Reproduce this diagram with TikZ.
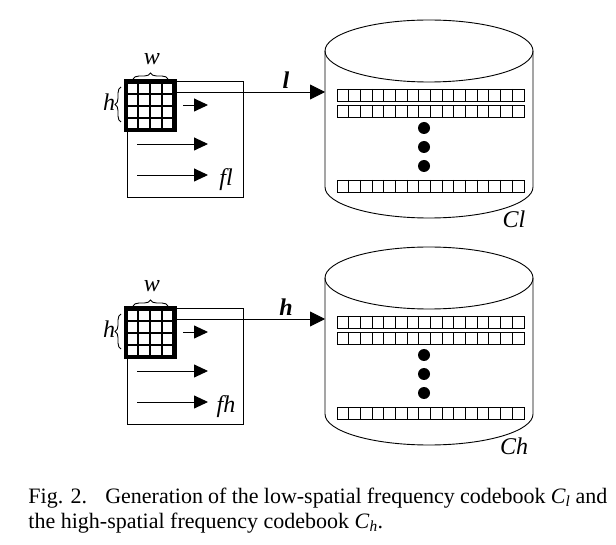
\documentclass[tikz,border=0pt]{standalone}
\usepackage{fontspec}
\setmainfont{Liberation Serif}
\usetikzlibrary{arrows.meta,decorations.pathreplacing}

\begin{document}
\begin{tikzpicture}[x=1pt,y=-1pt,line width=0.9pt,
        lbl/.style={font=\fontsize{24}{28}\selectfont\itshape},
        vec/.style={font=\fontsize{24}{28}\selectfont\bfseries\itshape},
        win/.style={draw,fill=white,line width=4.5pt,minimum size=48.5pt,inner sep=0pt,outer sep=0pt},
        framebox/.style={draw,minimum size=116pt,inner sep=0pt},
        cbrow/.style={draw,minimum width=187pt,minimum height=12pt,inner sep=0pt,outer sep=0pt},
        dot/.style={circle,fill=black,minimum size=12pt,inner sep=0pt},
        bigarrow/.style={-{Triangle[length=15pt,width=15pt]}},
        smallarrow/.style={-{Triangle[length=14pt,width=13pt]}},
        brc/.style={decorate,decoration={brace,amplitude=6pt}}]
    \useasboundingbox (0,0) rectangle (616,545);

    \foreach \dy/\n in {0/l,227/h} {
    \begin{scope}[shift={(0,\dy)}]
        % sliding window and feature box
        \node[framebox] (b\n) at (185.5,139.5) {};
        \node[win] (g\n) at (150,106) {};
        \foreach \k in {1,2,3} {
            \draw[line width=2.2pt] (g\n.north west) ++(\k*12.125,0) -- ++(0,48.5);
            \draw[line width=2.2pt] (g\n.north west) ++(0,\k*12.125) -- ++(48.5,0);
        }
        \draw[brc] (133,79) -- (168,79);
        \draw[brc] (121,122) -- (121,87);
        \node[lbl] (w\n) at (152,59) {w};
        \node[lbl] (h\n) at (109,102) {h};
        \draw[smallarrow] (183,105) -- (208,105);
        \draw[smallarrow] (137,144) -- (208,144);
        \draw[smallarrow] (137,175) -- (208,175);
        \node[lbl] (f\n) at (226,180) {f\n};

        % codebook
        \node[minimum width=208pt,minimum height=136pt,inner sep=0pt,outer sep=0pt] (c\n) at (429,119) {};
        \draw (c\n.north west) -- (c\n.south west)
            arc[start angle=180,end angle=360,x radius=104pt,y radius=31pt] -- (c\n.north east);
        \draw (c\n.north) ellipse[x radius=104pt,y radius=31pt];
        \node[cbrow] (r\n1) at (430.5,95) {};
        \node[cbrow] (r\n2) at (430.5,111.5) {};
        \node[cbrow] (r\n3) at (430.5,186) {};
        \foreach \r in {1,2,3}
            \foreach \k in {1,...,15}
                \draw (r\n\r.north west) ++(\k*11.6875,0) -- ++(0,12);
        \node[dot] (d\n1) at (424,128) {};
        \node[dot] (d\n2) at (424,147) {};
        \node[dot] (d\n3) at (424,166) {};
        \node[lbl] (n\n) at (514,219) {C\n};

        \coordinate (a\n) at (176,92);
        \draw[bigarrow] (a\n) -- (a\n -| c\n.west);
        \node[vec] (v\n) at (286,80) {\n};
    \end{scope}
    }

    % caption
    \node[anchor=base west,inner sep=0pt,font=\fontsize{22}{26}\selectfont] (cap1) at (28,503)
        {\makebox[579pt][s]{Fig. 2.\hspace{0.5em} Generation of the low-spatial frequency codebook \textit{C}\textsubscript{\textit{l}} and}};
    \node[anchor=base west,inner sep=0pt,font=\fontsize{22}{26}\selectfont] (cap2) at (28,528)
        {the high-spatial frequency codebook \textit{C}\textsubscript{\textit{h}}.};
\end{tikzpicture}
\end{document}
